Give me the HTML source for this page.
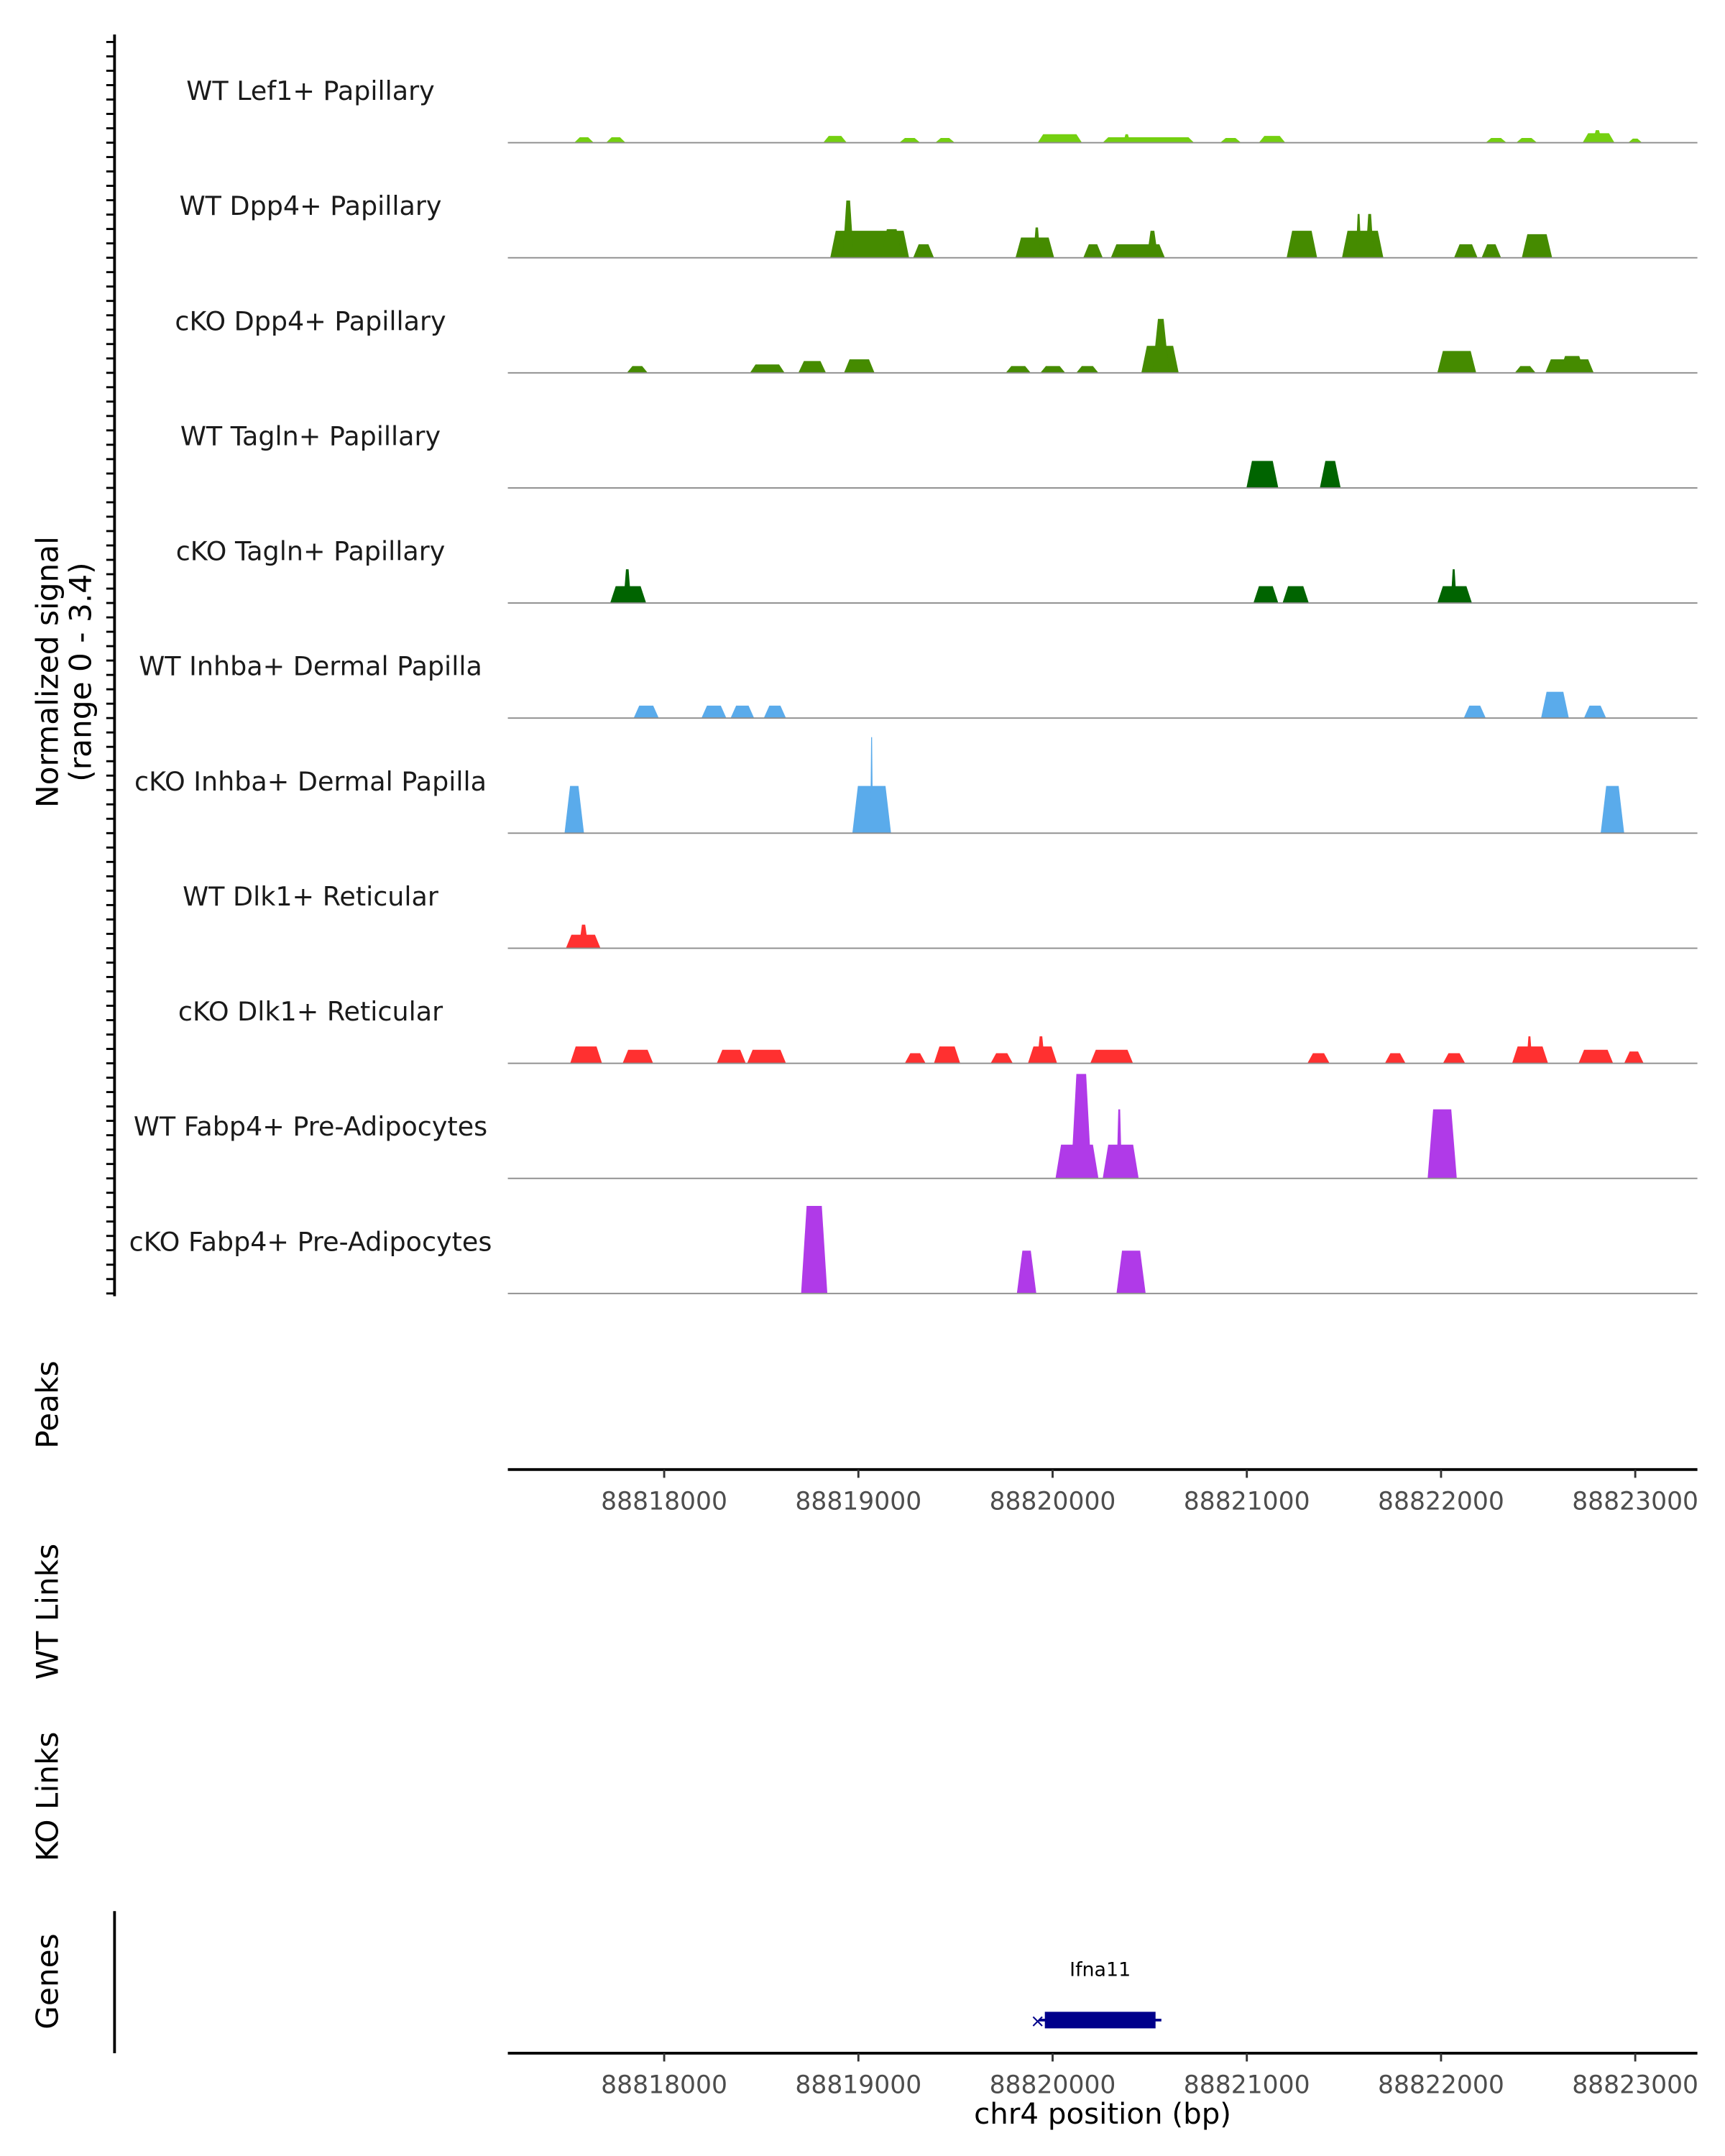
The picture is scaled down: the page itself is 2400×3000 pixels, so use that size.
<!DOCTYPE html>
<html><head><meta charset="utf-8"><style>
html,body{margin:0;padding:0;background:#fff;}
svg{display:block;font-family:"DejaVu Sans","Liberation Sans",sans-serif;}
</style></head><body>
<svg id="chart" width="2400" height="3000" viewBox="0 0 1250 1562.5" xmlns="http://www.w3.org/2000/svg">
<g id="tracks"></g>
<g id="axes"></g>
</svg>
<script>
const xMin = 88817195, xMax = 88823320;
const xTicks = [88818000, 88819000, 88820000, 88821000, 88822000, 88823000];
const trackNames = ["WT Lef1+ Papillary","WT Dpp4+ Papillary","cKO Dpp4+ Papillary","WT Tagln+ Papillary","cKO Tagln+ Papillary","WT Inhba+ Dermal Papilla","cKO Inhba+ Dermal Papilla","WT Dlk1+ Reticular","cKO Dlk1+ Reticular","WT Fabp4+ Pre-Adipocytes","cKO Fabp4+ Pre-Adipocytes"];
const trackColors = ["#74d010","#458b00","#458b00","#006400","#006400","#5aabeb","#5aabeb","#ff3030","#ff3030","#b03ae8","#b03ae8"];
const yMaxValue = 3.4;
const peaksLef1 = [[88817537,88817637,0.16],[88817701,88817801,0.16],[88818819,88818940,0.2],[88819211,88819318,0.14],[88819396,88819496,0.14],[88819923,88820151,0.25],[88820258,88820728,0.16],[88820363,88820400,0.25],[88820863,88820970,0.14],[88821062,88821198,0.2],[88822230,88822337,0.14],[88822387,88822494,0.14],[88822729,88822893,0.28],[88822780,88822830,0.37],[88822964,88823035,0.12]];
const peaksWTDpp4 = [[88818855,88819261,0.8],[88818919,88818976,1.7],[88819118,88819225,0.85],[88819282,88819389,0.4],[88819809,88820008,0.6],[88819900,88819937,0.9],[88820158,88820258,0.4],[88820300,88820578,0.4],[88820485,88820543,0.8],[88821205,88821362,0.8],[88821490,88821703,0.8],[88821561,88821590,1.3],[88821611,88821654,1.3],[88822067,88822188,0.4],[88822209,88822309,0.4],[88822416,88822572,0.7]];
const peaksKODpp4 = [[88817808,88817915,0.2],[88818442,88818620,0.25],[88818691,88818833,0.35],[88818926,88819083,0.4],[88819759,88819887,0.2],[88819937,88820065,0.2],[88820122,88820236,0.2],[88820457,88820649,0.8],[88820514,88820600,1.6],[88821981,88822181,0.65],[88822380,88822487,0.2],[88822537,88822786,0.4],[88822610,88822740,0.5]];
const peaksWTTagln = [[88820998,88821162,0.8],[88821376,88821483,0.8]];
const peaksKOTagln = [[88817722,88817907,0.5],[88817790,88817830,1.0],[88821034,88821162,0.5],[88821184,88821319,0.5],[88821981,88822159,0.5],[88822050,88822080,1.0]];
const peaksWTInhba = [[88817843,88817972,0.37],[88818192,88818320,0.37],[88818342,88818463,0.37],[88818513,88818627,0.37],[88822117,88822230,0.37],[88822515,88822658,0.78],[88822736,88822850,0.37]];
const peaksKOInhba = [[88817487,88817587,1.4],[88818969,88819168,1.4],[88819061,88819075,2.85],[88822822,88822943,1.4]];
const peaksWTDlk1 = [[88817494,88817672,0.4],[88817560,88817610,0.7]];
const peaksKODlk1 = [[88817516,88817680,0.5],[88817786,88817943,0.4],[88818271,88818420,0.4],[88818427,88818627,0.4],[88819239,88819346,0.3],[88819389,88819524,0.5],[88819681,88819795,0.3],[88819873,88820023,0.5],[88819920,88819960,0.8],[88820194,88820414,0.4],[88821312,88821426,0.3],[88821711,88821817,0.3],[88822010,88822124,0.3],[88822366,88822551,0.5],[88822440,88822470,0.8],[88822708,88822886,0.4],[88822943,88823043,0.35]];
const peaksWTFabp4 = [[88820015,88820236,1.0],[88820094,88820201,3.1],[88820258,88820443,1.0],[88820329,88820357,2.05],[88821931,88822081,2.05]];
const peaksKOFabp4 = [[88818705,88818840,2.6],[88819816,88819916,1.27],[88820329,88820479,1.27]];
const trackPeaks = [peaksLef1,peaksWTDpp4,peaksKODpp4,peaksWTTagln,peaksKOTagln,peaksWTInhba,peaksKOInhba,peaksWTDlk1,peaksKODlk1,peaksWTFabp4,peaksKOFabp4];

const NS="http://www.w3.org/2000/svg";
const px0=368, px1=1230, top0=20, trackH=83.4;
const xs = v => px0 + (v - xMin)/(xMax - xMin)*(px1-px0);
const ys = (v, base) => base - v/yMaxValue*83;
function mk(tag, attrs, parent){const e=document.createElementNS(NS,tag);for(const k in attrs)e.setAttribute(k,attrs[k]);parent.appendChild(e);return e;}
const tg=document.getElementById('tracks'), ax=document.getElementById('axes');

trackNames.forEach((name,i)=>{
  const base = top0 + trackH*(i+1);
  const g = mk('g',{},tg);
  
  
  trackPeaks[i].forEach(p=>{
    const a=xs(p[0]), b=xs(p[1]), y=ys(p[2],base), s=Math.min(4,(b-a)/3);
    const poly=mk('polygon',{points:`${a},${base} ${a+s},${y} ${b-s},${y} ${b},${base}`,fill:trackColors[i]},g);
    
    
  });
  const bl=mk('line',{x1:px0,x2:px1,y1:base,y2:base,stroke:'#8c8c8c','stroke-width':1},g);
  
  
  const t=mk('text',{x:225,y:base-31,'text-anchor':'middle','font-size':19,fill:'#1a1a1a'},g);
  t.textContent=name;
  
  
});

const lastBase = top0+trackH*11;
mk('line',{x1:83,x2:83,y1:25,y2:lastBase+2,stroke:'#000','stroke-width':2},ax);
for(let y=lastBase;y>=30;y-=trackH/8){mk('line',{x1:77,x2:83,y1:y,y2:y,stroke:'#000','stroke-width':1.5},ax);}
function vtext(txt,x,y,name){const t=mk('text',{x:x,y:y,'text-anchor':'middle','font-size':22,fill:'#000',transform:`rotate(-90 ${x} ${y})`},ax);t.textContent=txt;return t;}
vtext('Normalized signal',42,487,'y-axis-title');
vtext('(range 0 - 3.4)',66,487,'y-axis-range');
vtext('Peaks',42,1018,'peaks-track-title');
vtext('WT Links',42,1168,'wt-links-title');
vtext('KO Links',42,1302,'ko-links-title');
vtext('Genes',42,1436,'genes-track-title');

function xaxis(y,name){
  const g=mk('g',{},ax);
  
  
  mk('line',{x1:px0,x2:px1,y1:y,y2:y,stroke:'#000','stroke-width':2},g);
  xTicks.forEach(v=>{
    mk('line',{x1:xs(v),x2:xs(v),y1:y,y2:y+6,stroke:'#333','stroke-width':1.5},g);
    const t=mk('text',{x:xs(v),y:y+29,'text-anchor':'middle','font-size':18,fill:'#4d4d4d'},g);
    t.textContent=v;
  });
}
xaxis(1065,'peaks-x-axis');
xaxis(1488,'genes-x-axis');
const xt=mk('text',{x:799,y:1539,'text-anchor':'middle','font-size':21,fill:'#000'},ax);
xt.textContent='chr4 position (bp)';


mk('line',{x1:83,x2:83,y1:1385,y2:1488,stroke:'#000','stroke-width':2},ax);

const gg=mk('g',{},ax);


mk('line',{x1:xs(88819930),x2:xs(88820560),y1:1464,y2:1464,stroke:'#00008b','stroke-width':2},gg);
mk('rect',{x:xs(88819960),y:1458,width:xs(88820530)-xs(88819960),height:12,fill:'#00008b'},gg);
mk('text',{x:xs(88819930)-1,y:1469,'font-size':13,fill:'#00008b','text-anchor':'middle'},gg).textContent='×';
const gl=mk('text',{x:(xs(88819960)+xs(88820530))/2,y:1432,'text-anchor':'middle','font-size':14,fill:'#000'},gg);
gl.textContent='Ifna11';


</script>
</body></html>
